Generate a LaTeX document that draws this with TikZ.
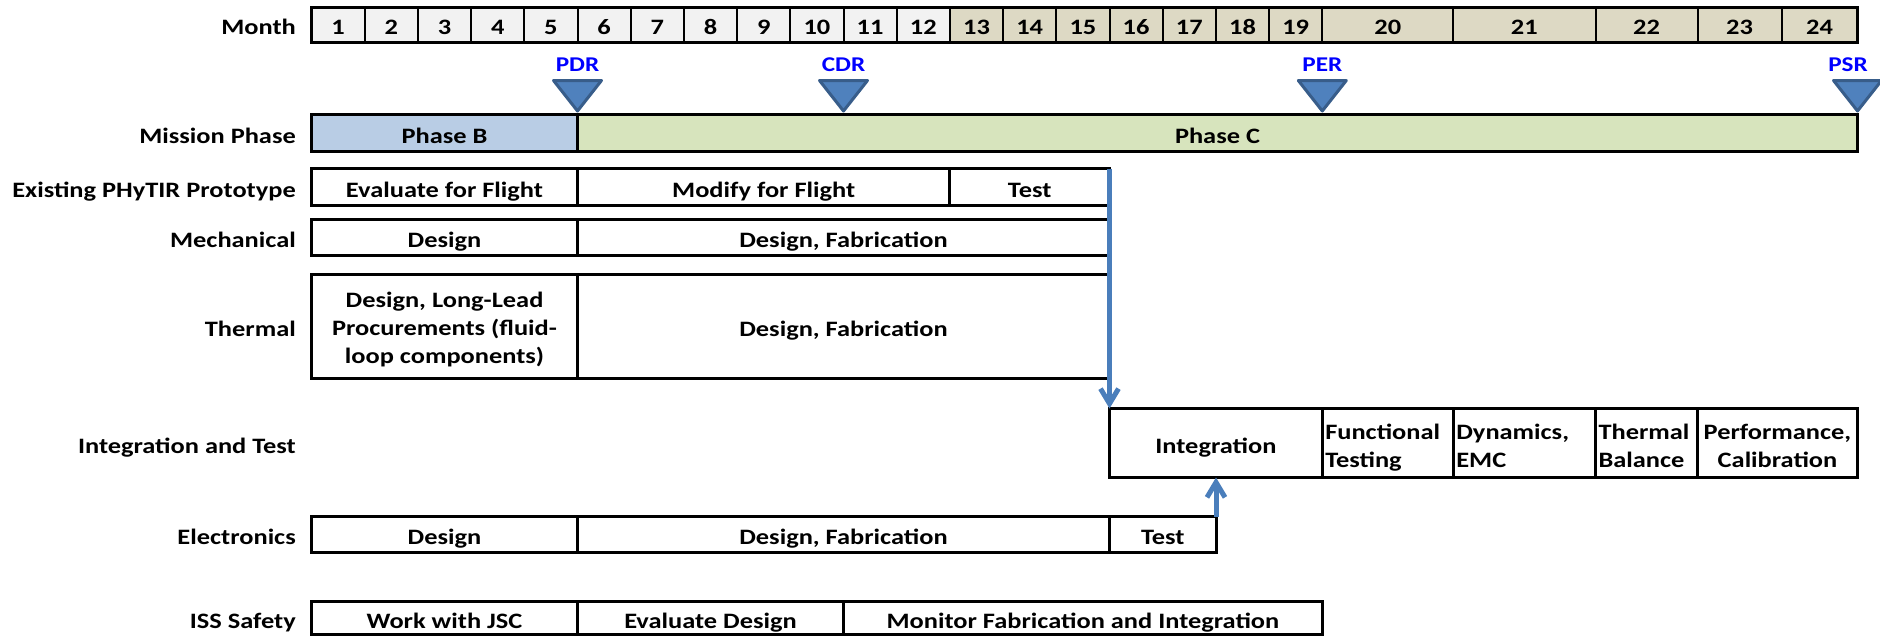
\documentclass[tikz,border=0pt]{standalone}
\usepackage{fontspec}
\setmainfont{Carlito}[FakeStretch=1.2]
\usetikzlibrary{arrows.meta}
\definecolor{monthgray}{HTML}{F2F2F2}
\definecolor{monthtan}{HTML}{DDD9C4}
\definecolor{phaseb}{HTML}{B9CDE5}
\definecolor{phasec}{HTML}{D7E4BD}
\definecolor{msfill}{HTML}{4F81BD}
\definecolor{msedge}{HTML}{385D8A}
\definecolor{arrowblue}{HTML}{4A7EBB}
\definecolor{mstext}{HTML}{0000FF}
\newcommand\ftext{\fontsize{22}{28}\selectfont\bfseries}
\newcommand\topstrut[1]{\rule{0pt}{#1}}
\newcommand\botstrut{\rule[-5pt]{0pt}{5pt}}
\newcommand\gcell[7][vc]{%
  \pgfmathsetmacro\gcw{#4-#3}%
  \pgfmathsetmacro\gch{#6-#5}%
  \node[cellbox,minimum width=\gcw pt,minimum height=\gch pt,#1] (#2) at ({(#3+#4)/2},{(#5+#6)/2}) {#7};}
\tikzset{
  cellbox/.style={draw, line width=3pt, fill=white, inner sep=0pt, outer sep=0pt, align=center, font=\ftext},
  vc/.style={text height=24pt, text depth=4pt},
  monthcell/.style={line width=2pt},
  rowlabel/.style={anchor=east, inner sep=0pt, font=\ftext, text height=24pt, text depth=4pt},
  milestone/.style={draw=msedge, fill=msfill, line width=3pt, line join=round},
  mslabel/.style={text=mstext, font=\fontsize{21}{24}\selectfont\bfseries, inner sep=0pt},
  bluearrow/.style={draw=arrowblue, line width=5pt, -{Straight Barb[length=15pt,width=18pt]}},
}
\begin{document}
\begin{tikzpicture}[x=1pt,y=-1pt]
\useasboundingbox (0,0) rectangle (1880,637);
% month row
\foreach \i in {1,...,19}{
  \pgfmathsetmacro\xa{311.5+53.2*(\i-1)}
  \pgfmathsetmacro\xb{\xa+53.2}
  \ifnum\i<13 \def\mfill{monthgray}\else\def\mfill{monthtan}\fi
  \gcell[vc,monthcell,fill=\mfill]{m\i}{\xa}{\xb}{7}{42}{\i}
}
\gcell[vc,monthcell,fill=monthtan]{m20}{1322.3}{1453.2}{7}{42}{20}
\gcell[vc,monthcell,fill=monthtan]{m21}{1453.2}{1595.5}{7}{42}{21}
\gcell[vc,monthcell,fill=monthtan]{m22}{1595.5}{1697.5}{7}{42}{22}
\gcell[vc,monthcell,fill=monthtan]{m23}{1697.5}{1781.7}{7}{42}{23}
\gcell[vc,monthcell,fill=monthtan]{m24}{1781.7}{1857.5}{7}{42}{24}
\draw[line width=3pt] (m1.north west) rectangle (m24.south east);
% row labels
\node[rowlabel] (lmonth) at (296,24.5) {Month};
\node[rowlabel] (lphase) at (296,133) {Mission Phase};
\node[rowlabel] (lproto) at (296,187) {Existing PHyTIR Prototype};
\node[rowlabel] (lmech) at (296,237.5) {Mechanical};
\node[rowlabel] (ltherm) at (296,326) {Thermal};
\node[rowlabel] (lit) at (296,443) {Integration and Test};
\node[rowlabel] (lelec) at (296,534.5) {Electronics};
\node[rowlabel] (liss) at (296,618) {ISS Safety};
% mission phase
\gcell[vc,fill=phaseb]{phb}{311.5}{577.5}{114.7}{151.3}{Phase B}
\gcell[vc,fill=phasec]{phc}{577.5}{1857.5}{114.7}{151.3}{Phase C}
% milestones
\draw[milestone] (553.5,80.5) -- (601.5,80.5) -- (577.5,111) -- cycle;
\draw[milestone] (819.5,80.5) -- (867.5,80.5) -- (843.5,111) -- cycle;
\draw[milestone] (1298.3,80.5) -- (1346.3,80.5) -- (1322.3,111) -- cycle;
\draw[milestone] (1833.5,80.5) -- (1881.5,80.5) -- (1857.5,111) -- cycle;
\node[mslabel] (pdr) at (577.5,65) {PDR};
\node[mslabel] (cdr) at (843.5,65) {CDR};
\node[mslabel] (per) at (1322.3,65) {PER};
\node[mslabel] (psr) at (1848,65) {PSR};
% existing prototype
\gcell{pevl}{311.5}{577.5}{168.5}{205.5}{Evaluate for Flight}
\gcell{pmod}{577.5}{949.9}{168.5}{205.5}{Modify for Flight}
\gcell{ptest}{949.9}{1109.5}{168.5}{205.5}{Test}
% mechanical
\gcell{mdes}{311.5}{577.5}{219.5}{255.5}{Design}
\gcell{mfab}{577.5}{1109.5}{219.5}{255.5}{Design, Fabrication}
% thermal
\gcell[]{tdes}{311.5}{577.5}{274}{378.5}{\topstrut{23pt}Design, Long-Lead\\Procurements (fluid-\\loop components)\botstrut}
\gcell{tfab}{577.5}{1109.5}{274}{378.5}{Design, Fabrication}
% integration and test
\gcell{integ}{1109.5}{1322.3}{408.5}{477.5}{Integration}
\gcell[align=left,text width=125pt]{ftest}{1322.3}{1453.2}{408.5}{477.5}{\topstrut{25.6pt}Functional\\Testing\botstrut}
\gcell[align=left,text width=136pt]{dyn}{1453.2}{1595.5}{408.5}{477.5}{\topstrut{25.6pt}Dynamics,\\EMC\botstrut}
\gcell[align=left,text width=96pt]{tbal}{1595.5}{1697.5}{408.5}{477.5}{\topstrut{25.6pt}Thermal\\Balance\botstrut}
\gcell[]{perf}{1697.5}{1857.5}{408.5}{477.5}{\topstrut{25.6pt}Performance,\\Calibration\botstrut}
% electronics
\gcell{edes}{311.5}{577.5}{516.7}{552.3}{Design}
\gcell{efab}{577.5}{1109.5}{516.7}{552.3}{Design, Fabrication}
\gcell{etest}{1109.5}{1216}{516.7}{552.3}{Test}
% ISS safety
\gcell{sjsc}{311.5}{577.5}{601.7}{634.5}{Work with JSC}
\gcell{seval}{577.5}{843.5}{601.7}{634.5}{Evaluate Design}
\gcell{smon}{843.5}{1322.3}{601.7}{634.5}{Monitor Fabrication and Integration}
% connectors
\draw[bluearrow] (ptest.north east) -- (integ.north west);
\draw[bluearrow] (etest.north east) -- (etest.north east |- integ.south);
\end{tikzpicture}
\end{document}
